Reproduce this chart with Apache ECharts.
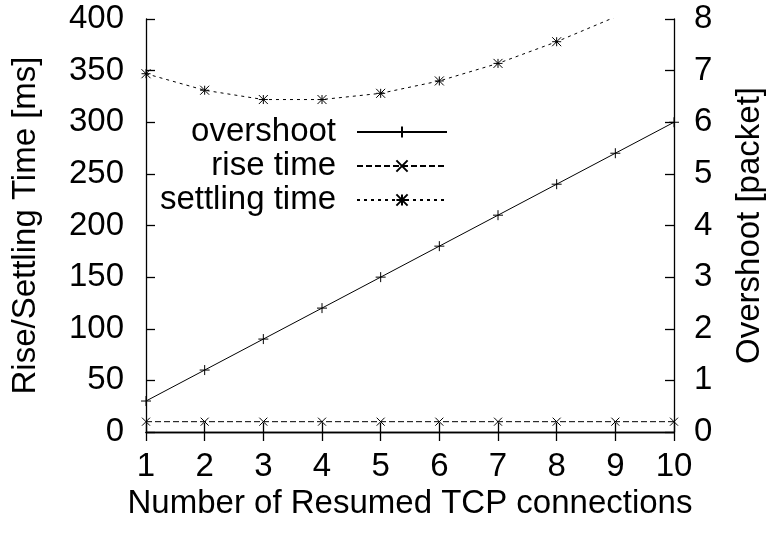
<!DOCTYPE html>
<html>
<head>
<meta charset="utf-8">
<title>Resumed TCP connections</title>
<script src="https://cdn.jsdelivr.net/npm/echarts@6/dist/echarts.min.js"></script>
<style>
  html, body { margin: 0; padding: 0; background: #fff; }
  #chart { width: 774px; height: 536px; }
</style>
</head>
<body>
<div id="chart"></div>
<script>
// Number of resumed TCP connections (x axis)
const connections = [1, 2, 3, 4, 5, 6, 7, 8, 9, 10];
// Overshoot in packets (right axis)
const overshootPackets = [0.6, 1.2, 1.8, 2.4, 3.0, 3.6, 4.2, 4.8, 5.4, 6.0];
// Rise time in ms (left axis)
const riseTimeMs = [10, 10, 10, 10, 10, 10, 10, 10, 10, 10];
// Settling time in ms (left axis)
const settlingTimeMs = [347, 331, 322, 322, 328, 340, 357, 378, 402, 430];

const seriesNames = ['overshoot', 'rise time', 'settling time'];

const FONT = "'Liberation Sans', Arial, Helvetica, sans-serif";
const FS = 33;

// gnuplot-like point types drawn as stroked paths
const SYM_PLUS = 'path://M0,5L10,5M5,0L5,10';
const SYM_CROSS = 'path://M0,0L10,10M10,0L0,10';
const SYM_STAR = 'path://M0,5L10,5M5,0L5,10M0,0L10,10M10,0L0,10';

const pairs = (ys) => connections.map((x, i) => [x, ys[i]]);

const symStyle = { color: '#000', borderColor: '#000', borderWidth: 1 };

const axisLine = { show: true, lineStyle: { color: '#000', width: 1.3 } };
const tickIn = { show: true, inside: true, length: 9, lineStyle: { color: '#000', width: 1.3 } };

const chart = echarts.init(document.getElementById('chart'), null, { renderer: 'canvas' });

chart.setOption({
  animation: false,
  backgroundColor: '#fff',
  textStyle: { fontFamily: FONT, color: '#000' },
  grid: { left: 146, right: 97, top: 19, bottom: 104, containLabel: false },
  legend: {
    data: seriesNames,
    orient: 'vertical',
    align: 'right',
    right: 326,
    top: 115,
    padding: 0,
    itemGap: 0,
    itemWidth: 90,
    itemHeight: 14,
    textStyle: {
      fontFamily: FONT,
      fontSize: FS,
      color: '#000',
      lineHeight: 34,
      padding: [0, 16, 0, 0]
    },
    selectedMode: false
  },
  xAxis: [
    {
      type: 'value',
      position: 'bottom',
      min: 1,
      max: 10,
      interval: 1,
      name: 'Number of Resumed TCP connections',
      nameLocation: 'middle',
      nameGap: 51,
      nameTextStyle: { fontFamily: FONT, fontSize: FS, color: '#000' },
      axisLine: axisLine,
      axisTick: tickIn,
      axisLabel: { fontFamily: FONT, fontSize: FS, color: '#000', margin: 18 },
      splitLine: { show: false }
    },
    {
      type: 'value',
      position: 'top',
      min: 1,
      max: 10,
      interval: 1,
      axisLine: axisLine,
      axisTick: tickIn,
      axisLabel: { show: false },
      splitLine: { show: false }
    }
  ],
  yAxis: [
    {
      type: 'value',
      position: 'left',
      min: 0,
      max: 400,
      interval: 50,
      name: 'Rise/Settling Time [ms]',
      nameLocation: 'middle',
      nameGap: 104,
      nameTextStyle: { fontFamily: FONT, fontSize: FS, color: '#000' },
      axisLine: axisLine,
      axisTick: tickIn,
      axisLabel: { fontFamily: FONT, fontSize: FS, color: '#000', margin: 22 },
      splitLine: { show: false }
    },
    {
      type: 'value',
      position: 'right',
      min: 0,
      max: 8,
      interval: 1,
      name: 'Overshoot [packet]',
      nameLocation: 'middle',
      nameGap: 59,
      nameTextStyle: { fontFamily: FONT, fontSize: FS, color: '#000' },
      axisLine: axisLine,
      axisTick: tickIn,
      axisLabel: { fontFamily: FONT, fontSize: FS, color: '#000', margin: 20 },
      splitLine: { show: false }
    }
  ],
  series: [
    {
      name: seriesNames[0],
      type: 'line',
      yAxisIndex: 1,
      data: pairs(overshootPackets),
      symbol: SYM_PLUS,
      symbolSize: 10,
      showAllSymbol: true,
      lineStyle: { color: '#000', width: 1, type: 'solid' },
      itemStyle: symStyle,
      clip: true
    },
    {
      name: seriesNames[1],
      type: 'line',
      yAxisIndex: 0,
      data: pairs(riseTimeMs),
      symbol: SYM_CROSS,
      symbolSize: 8,
      showAllSymbol: true,
      lineStyle: { color: '#000', width: 1, type: [6, 3] },
      itemStyle: symStyle,
      clip: true
    },
    {
      name: seriesNames[2],
      type: 'line',
      yAxisIndex: 0,
      data: pairs(settlingTimeMs),
      symbol: SYM_STAR,
      symbolSize: 9,
      showAllSymbol: true,
      lineStyle: { color: '#000', width: 1, type: [3, 4] },
      itemStyle: symStyle,
      clip: true
    }
  ]
});
</script>
</body>
</html>
